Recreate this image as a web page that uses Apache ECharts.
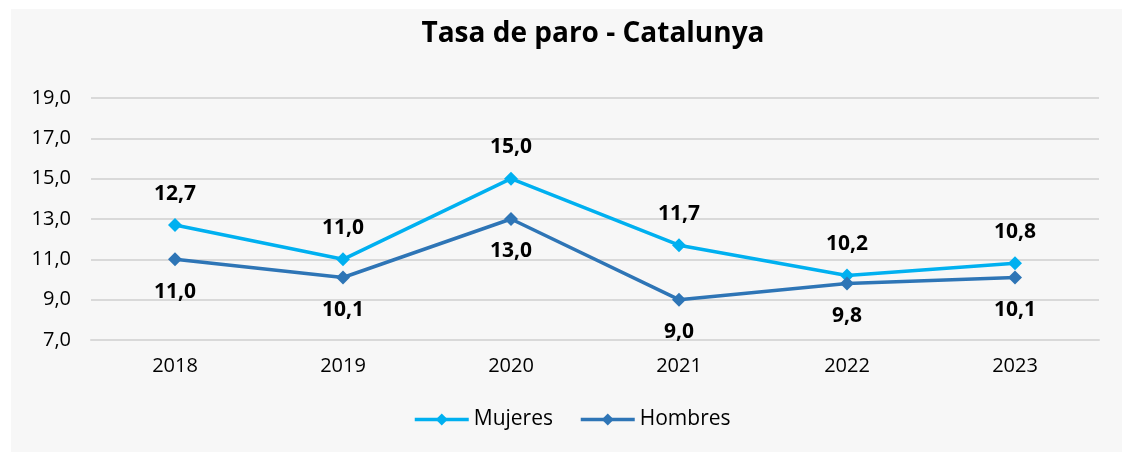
<!DOCTYPE html>
<html>
<head>
<meta charset="utf-8">
<script src="https://cdn.jsdelivr.net/npm/echarts@6/dist/echarts.min.js"></script>
<style>
  html, body { margin: 0; padding: 0; background: #ffffff; }
  #chart { width: 1122px; height: 452px; }
</style>
</head>
<body>
<div id="chart"></div>
<script>
// datos
var years = ['2018', '2019', '2020', '2021', '2022', '2023'];
var mujeres = [12.7, 11.0, 15.0, 11.7, 10.2, 10.8];
var hombres = [11.0, 10.1, 13.0, 9.0, 9.8, 10.1];
var seriesNames = ['Mujeres', 'Hombres'];

var fontFam = '"Open Sans", "Noto Sans", sans-serif';
var fmt = function (v) { return v.toFixed(1).replace('.', ','); };

var chart = echarts.init(document.getElementById('chart'));

var option = {
  backgroundColor: 'transparent',
  graphic: [{
    type: 'rect',
    left: 11, top: 9,
    shape: { width: 1111, height: 443 },
    style: { fill: '#f7f7f7' },
    z: -10
  }],
  title: {
    text: 'Tasa de paro - Catalunya',
    left: 588,
    textAlign: 'center',
    top: 15,
    textStyle: { fontFamily: fontFam, fontSize: 28, fontWeight: 'bold', color: '#000' }
  },
  legend: {
    bottom: 17,
    left: 408,
    itemWidth: 54,
    itemHeight: 15,
    itemGap: 26,
    data: seriesNames,
    lineStyle: { width: 3.5 },
    textStyle: { fontFamily: fontFam, fontSize: 21, color: '#000' }
  },
  grid: { left: 91, right: 23, top: 98, bottom: 112, containLabel: false },
  xAxis: {
    type: 'category',
    data: years,
    boundaryGap: true,
    axisLine: { lineStyle: { color: '#d9d9d9', width: 2 } },
    axisTick: { show: false },
    axisLabel: { fontFamily: fontFam, fontSize: 20, color: '#000', margin: 16 }
  },
  yAxis: {
    type: 'value',
    min: 7, max: 19, interval: 2,
    axisLine: { show: false },
    axisTick: { show: false },
    splitLine: { lineStyle: { color: '#d9d9d9', width: 2 } },
    axisLabel: { fontFamily: fontFam, fontSize: 20, color: '#000', margin: 20, formatter: fmt }
  },
  series: [
    {
      name: seriesNames[0],
      type: 'line',
      data: mujeres,
      color: '#00b0f0',
      symbol: 'diamond',
      symbolSize: 14,
      lineStyle: { width: 3.5 },
      label: {
        show: true, position: 'top', distance: 14,
        fontFamily: fontFam, fontSize: 21, fontWeight: 'bold', color: '#000',
        formatter: function (p) { return fmt(p.value); }
      }
    },
    {
      name: seriesNames[1],
      type: 'line',
      data: hombres,
      color: '#2e75b6',
      symbol: 'diamond',
      symbolSize: 14,
      lineStyle: { width: 3.5 },
      label: {
        show: true, position: 'bottom', distance: 15,
        fontFamily: fontFam, fontSize: 21, fontWeight: 'bold', color: '#000',
        formatter: function (p) { return fmt(p.value); }
      }
    }
  ]
};

chart.setOption(option);
</script>
</body>
</html>
